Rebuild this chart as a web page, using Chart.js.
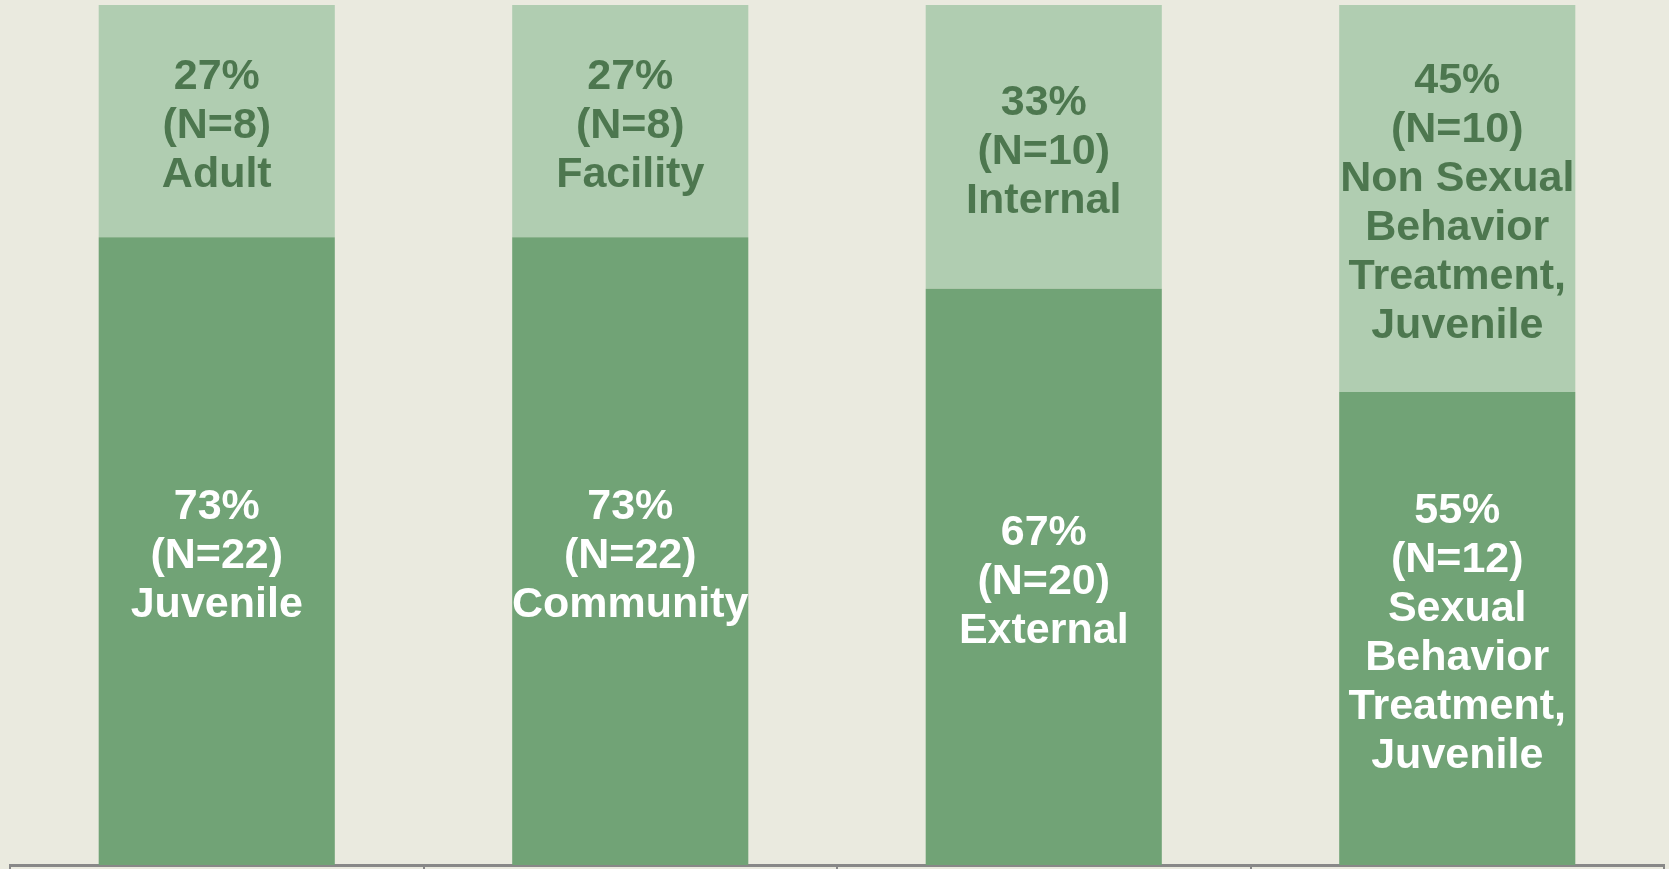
<!DOCTYPE html>
<html>
<head>
<meta charset="utf-8">
<script src="https://cdn.jsdelivr.net/npm/chart.js@4.4.1/dist/chart.umd.min.js"></script>
<style>
  html, body { margin: 0; padding: 0; background: #EAEADF; }
  #wrap { width: 1669px; height: 869px; }
</style>
</head>
<body>
<div id="wrap"><canvas id="splitChart"></canvas></div>
<script>
const categories = ["Age", "Setting", "Source", "Treatment"];
const bottomPct = [73, 73, 67, 55];
const bottomN = [22, 22, 20, 12];
const bottomNames = [["Juvenile"], ["Community"], ["External"], ["Sexual", "Behavior", "Treatment,", "Juvenile"]];
const topPct = [27, 27, 33, 45];
const topN = [8, 8, 10, 10];
const topNames = [["Adult"], ["Facility"], ["Internal"], ["Non Sexual", "Behavior", "Treatment,", "Juvenile"]];

// draws "pct% / (N=x) / name" in the middle of each bar segment
const segmentLabels = {
    id: 'segmentLabels',
    afterDatasetsDraw(chart) {
        const ctx = chart.ctx;
        ctx.save();
        ctx.font = "bold 43px 'Liberation Sans', Arial, sans-serif";
        ctx.textAlign = 'center';
        ctx.textBaseline = 'middle';
        chart.data.datasets.forEach((ds, i) => {
            const meta = chart.getDatasetMeta(i);
            meta.data.forEach((bar, j) => {
                const lines = [ds.data[j] + "%", "(N=" + ds.counts[j] + ")"].concat(ds.names[j]);
                const lh = 49;
                const cy = (bar.y + bar.base) / 2 + 5;
                let y = cy - (lines.length - 1) * lh / 2;
                ctx.fillStyle = ds.labelColor;
                lines.forEach(line => {
                    ctx.fillText(line, bar.x, y);
                    y += lh;
                });
            });
        });
        ctx.restore();
    }
};

new Chart(document.getElementById("splitChart"), {
    type: 'bar',
    data: {
        labels: categories,
        datasets: [{
            data: bottomPct,
            counts: bottomN,
            names: bottomNames,
            labelColor: "#FFFFFF",
            backgroundColor: "#71A376"
        }, {
            data: topPct,
            counts: topN,
            names: topNames,
            labelColor: "#4D774F",
            backgroundColor: "#B0CDB1"
        }]
    },
    options: {
        responsive: true,
        maintainAspectRatio: false,
        animation: false,
        categoryPercentage: 1,
        barPercentage: 0.571,
        layout: {
            padding: { left: 10, right: 5, top: 5, bottom: 0 }
        },
        plugins: {
            legend: { display: false },
            tooltip: { enabled: false }
        },
        scales: {
            x: {
                stacked: true,
                grid: {
                    drawOnChartArea: false,
                    drawTicks: true,
                    tickLength: 4,
                    color: "#888888",
                    lineWidth: 2
                },
                border: { color: "#888888", width: 3 },
                ticks: { display: false }
            },
            y: {
                stacked: true,
                display: false,
                min: 0,
                max: 100
            }
        }
    },
    plugins: [segmentLabels]
});
</script>
</body>
</html>
